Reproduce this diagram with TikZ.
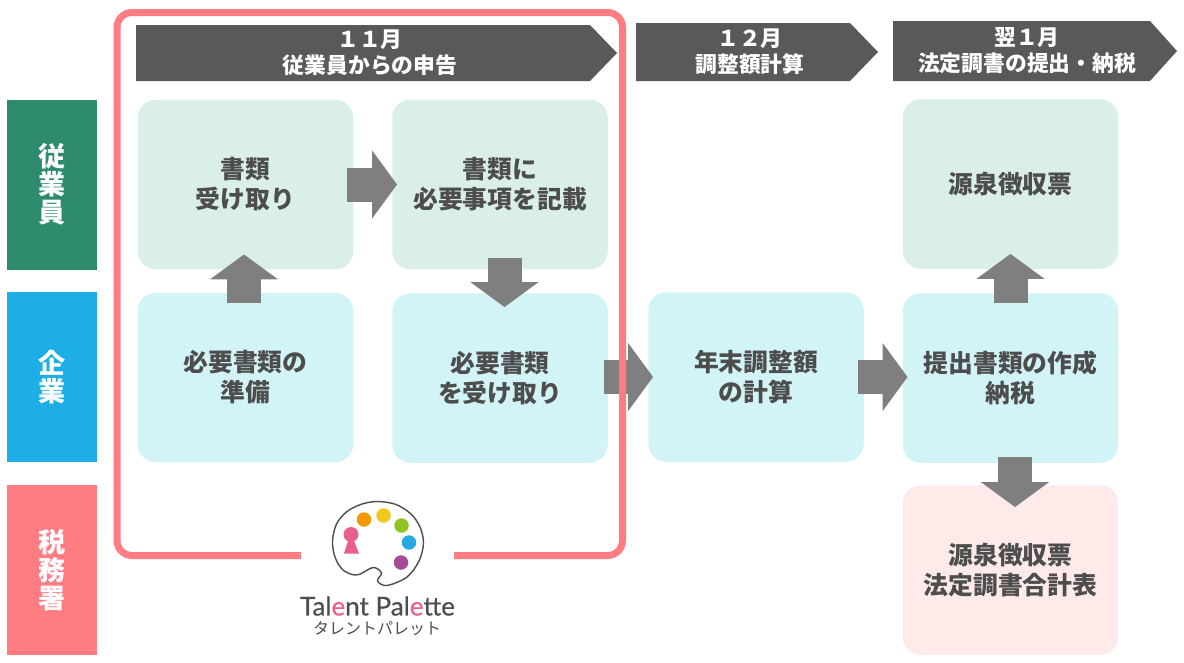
\documentclass[tikz,border=0pt]{standalone}
\usepackage{fontspec}
\usepackage{xcolor}
\usepackage{tikz}
\usetikzlibrary{arrows.meta}
\setmainfont{Noto Sans CJK JP}
\newfontfamily\logofont[FakeBold=0.5]{Lato}
\definecolor{framered}{RGB}{255, 124, 130}
\definecolor{headgray}{RGB}{89, 89, 89}
\definecolor{arrowgray}{RGB}{127, 127, 127}
\definecolor{textgray}{RGB}{77, 77, 77}
\definecolor{staffgreen}{RGB}{46, 139, 110}
\definecolor{firmblue}{RGB}{29, 174, 230}
\definecolor{staffpale}{RGB}{217, 239, 232}
\definecolor{firmpale}{RGB}{210, 244, 247}
\definecolor{taxpale}{RGB}{255, 234, 234}
\definecolor{logopink}{RGB}{233, 96, 143}
\definecolor{dotorange}{RGB}{243, 152, 0}
\definecolor{dotyellow}{RGB}{242, 200, 30}
\definecolor{dotgreen}{RGB}{143, 195, 31}
\definecolor{dotblue}{RGB}{41, 167, 225}
\definecolor{dotpurple}{RGB}{166, 74, 151}
\tikzset{
    sidebox/.style={minimum width=90pt, minimum height=170pt, inner sep=0pt, align=center,
        text=white, font=\fontsize{27}{28}\selectfont\bfseries},
    stepbox/.style={minimum width=215.5pt, minimum height=169.5pt, inner sep=0pt, align=center,
        rounded corners=18pt, text=textgray, font=\fontsize{24.8}{30}\selectfont\bfseries},
    headtext/.style={text=white, align=center, inner sep=0pt, font=\fontsize{21.8}{26}\selectfont\bfseries},
    blockarrow/.style={line width=34pt, arrowgray, -{Triangle[length=25pt, width=67pt]}},
    paint/.style={circle, minimum size=14.5pt, inner sep=0pt}
}

\begin{document}
\begin{tikzpicture}[x=1pt, y=-1pt]
    \useasboundingbox (0,0) rectangle (1184,662);
    % headers
    \fill[headgray] (136,25) -- (590,25) -- (617,53) -- (590,81) -- (136,81) -- cycle;
    \fill[headgray] (636,23) -- (850,23) -- (878,52) -- (850,81) -- (636,81) -- cycle;
    \fill[headgray] (893,21) -- (1150,21) -- (1177,51) -- (1150,81) -- (893,81) -- cycle;
    \node[headtext] (nov) at (370,53) {１１月\\従業員からの申告};
    \node[headtext] (dec) at (750,52) {１２月\\調整額計算};
    \node[headtext] (jan) at (1027,51) {翌１月\\法定調書の提出・納税};
    % rows
    \node[sidebox, fill=staffgreen] (staff) at (52,184.5) {従\\業\\員};
    \node[sidebox, fill=firmblue] (firm) at (52,377) {企\\業};
    \node[sidebox, fill=framered] (tax) at (52,570) {税\\務\\署};
    % steps
    \node[stepbox, fill=staffpale] (receive) at (245.5,184.5) {書類\\受け取り};
    \node[stepbox, fill=staffpale] (fill) at (500,184.5) {書類に\\必要事項を記載};
    \node[stepbox, fill=firmpale] (prepare) at (245.5,377.5) {必要書類の\\準備};
    \node[stepbox, fill=firmpale] (collect) at (500,378) {必要書類\\を受け取り};
    \node[stepbox, fill=firmpale] (calc) at (756,377) {年末調整額\\の計算};
    \node[stepbox, fill=staffpale] (slip) at (1010.5,184) {源泉徴収票};
    \node[stepbox, fill=firmpale] (submit) at (1010.5,378) {提出書類の作成\\納税};
    \node[stepbox, fill=taxpale] (total) at (1010.5,570) {源泉徴収票\\法定調書合計表};
    % arrows
    \draw[blockarrow, shorten <=-10pt, shorten >=-15pt] ([xshift=-1.5pt]prepare.north) -- ([xshift=-1.5pt]receive.south);
    \draw[blockarrow, shorten <=-6pt, shorten >=-5pt] (receive.east) -- (fill.west);
    \draw[blockarrow, shorten <=-11pt, shorten >=-14pt] ([xshift=4.5pt]fill.south) -- ([xshift=4.5pt]collect.north);
    \draw[blockarrow, shorten <=-4pt, shorten >=-5pt] (collect.east |- calc.west) -- (calc.west);
    \draw[blockarrow, shorten <=-6pt, shorten >=-5pt] (calc.east) -- (calc.east -| submit.west);
    \draw[blockarrow, shorten <=-10pt, shorten >=-15pt] (submit.north) -- (slip.south);
    \draw[blockarrow, shorten <=-6pt, shorten >=-22pt] ([xshift=4.5pt]submit.south) -- ([xshift=4.5pt]total.north);
    % frame
    \draw[framered, line width=7pt, rounded corners=15pt] (301,555.5) -- (117,555.5) -- (117,12.5) -- (622.5,12.5) -- (622.5,555.5) -- (454,555.5);
    % logo
    \draw[line width=1.4pt, textgray] plot[smooth cycle, tension=0.55] coordinates {(332.5,541) (336.5,524) (347,511.5) (362,504) (378,501.5) (396,504.5) (411,514) (420,527) (423.5,543) (419,561) (407,577) (387,585.5) (377.5,581) (381.5,573) (373,567.5) (357,575) (343,570) (335,557)};
    \node[paint, fill=logopink, minimum size=15pt] (head) at (351,534.5) {};
    \fill[logopink] (348,541) -- (354,541) -- (359,553.5) -- (344,553.5) -- cycle;
    \node[paint, fill=dotorange] (p1) at (364,519.5) {};
    \node[paint, fill=dotyellow] (p2) at (383.5,515.5) {};
    \node[paint, fill=dotgreen] (p3) at (401.5,525.5) {};
    \node[paint, fill=dotblue] (p4) at (409,542.5) {};
    \node[paint, fill=dotpurple] (p5) at (401,562.5) {};
    \node[inner sep=0pt, text=textgray, font=\fontsize{26}{30}\logofont] (logoname) at (377.5,606) {Tal\textcolor{logopink}{e}nt Pal\textcolor{logopink}{e}tte};
    \node[inner sep=0pt, text=textgray, font=\fontsize{16}{18}\selectfont] (logokana) at (377,629) {タレントパレット};
\end{tikzpicture}
\end{document}
